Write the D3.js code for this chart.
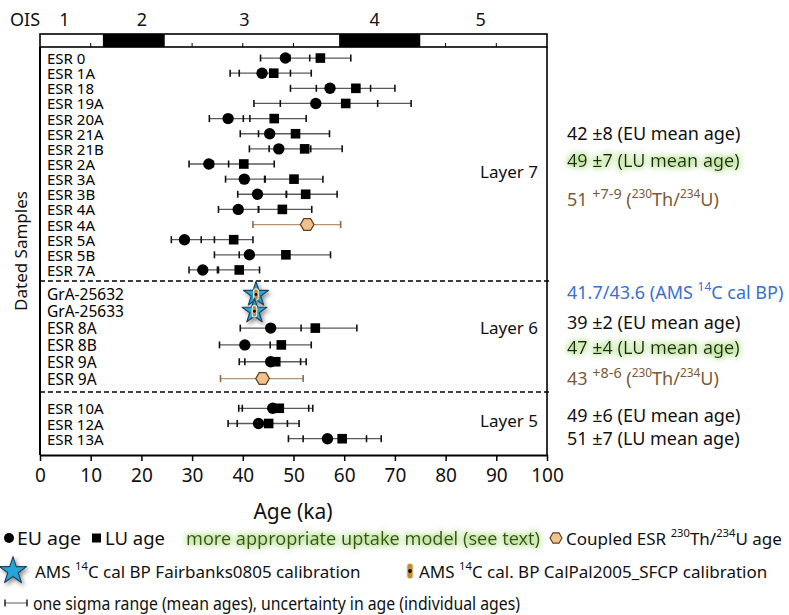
<!DOCTYPE html>
<html><head><meta charset="utf-8">
<script src="https://cdn.jsdelivr.net/npm/d3@7"></script>
<style>
body{margin:0;background:#fff}
svg{display:block}
text{font-family:"Noto Sans","Open Sans",sans-serif;fill:#111}
</style>
</head><body>
<svg id="chart" width="789" height="615"></svg>
<script>
// ---------------- DATA ----------------
const sampleLabels = ["ESR 0","ESR 1A","ESR 18","ESR 19A","ESR 20A","ESR 21A","ESR 21B","ESR 2A","ESR 3A","ESR 3B","ESR 4A","ESR 4A","ESR 5A","ESR 5B","ESR 7A",
  "GrA-25632","GrA-25633","ESR 8A","ESR 8B","ESR 9A","ESR 9A",
  "ESR 10A","ESR 12A","ESR 13A"];
const sampleLayer = [7,7,7,7,7,7,7,7,7,7,7,7,7,7,7, 6,6,6,6,6,6, 5,5,5];
const sampleKind = ["esr","esr","esr","esr","esr","esr","esr","esr","esr","esr","esr","coupled","esr","esr","esr",
  "ams","ams","esr","esr","esr","coupled",
  "esr","esr","esr"];
// EU (early uptake) ages and one-sigma range
const euAge  = [48.4,43.8,57.2,54.4,37.1,45.3,47.1,33.3,40.3,42.9,39.1,null,28.5,41.3,32.1, null,null,45.5,40.4,45.5,null, 45.9,43.1,56.7];
const euLow  = [43.5,37.5,49.4,42.2,33.4,39.5,41.3,29.4,36.6,39.0,35.2,null,25.9,34.4,29.4, null,null,39.5,35.4,39.3,null, 39.2,37.1,49.0];
const euHigh = [53.2,49.4,65.2,66.6,40.1,51.1,53.4,37.2,44.3,48.6,43.1,null,31.8,48.2,35.0, null,null,51.5,45.4,51.4,null, 53.0,48.8,64.4];
// LU (linear uptake) ages and one-sigma range
const luAge  = [55.3,46.1,62.3,60.3,46.2,50.4,52.2,40.2,50.1,52.4,47.8,null,38.2,48.5,39.3, null,null,54.3,47.6,46.5,null, 47.2,45.1,59.6];
const luLow  = [49.3,39.3,54.5,47.4,41.4,43.1,45.2,34.2,44.4,48.6,43.1,null,34.4,39.3,35.2, null,null,46.1,41.0,40.4,null, 39.9,38.9,51.9];
const luHigh = [61.3,53.5,70.0,73.2,52.5,57.1,59.6,46.2,55.8,58.6,53.6,null,42.0,57.3,43.3, null,null,62.5,53.5,52.5,null, 53.8,51.1,67.3];
// Coupled ESR / 230Th/234U ages
const thAge  = [null,null,null,null,null,null,null,null,null,null,null,52.7,null,null,null, null,null,null,null,null,43.9, null,null,null];
const thLow  = [null,null,null,null,null,null,null,null,null,null,null,42.0,null,null,null, null,null,null,null,null,35.6, null,null,null];
const thHigh = [null,null,null,null,null,null,null,null,null,null,null,59.3,null,null,null, null,null,null,null,null,51.9, null,null,null];
// AMS 14C cal BP ages
const amsAge = [null,null,null,null,null,null,null,null,null,null,null,null,null,null,null, 42.6,42.3,null,null,null,null, null,null,null];

const xTicks = [0,10,20,30,40,50,60,70,80,90,100];
const oisStages = ["1","2","3","4","5"];
const oisLabelAt = [4.8,20.1,40.3,66.0,86.9];
const oisCold = [[12.4,24.6],[59.0,75.0]];
const layers = [7,6,5];
const layerNames = ["Layer 7","Layer 6","Layer 5"];

// ---------------- LAYOUT ----------------
const svg = d3.select("#chart");
const x = d3.scaleLinear().domain([0,100]).range([40,547]);
const plotTop = 47, plotBottom = 455;
const bands = {7:[47,281,0.73], 6:[281,392,0.8], 5:[392,455,1.07]};

const rows = sampleLabels.map((l,i)=>({i,label:l,layer:sampleLayer[i],kind:sampleKind[i],
  eu:euAge[i],euLo:euLow[i],euHi:euHigh[i],lu:luAge[i],luLo:luLow[i],luHi:luHigh[i],
  th:thAge[i],thLo:thLow[i],thHi:thHigh[i],ams:amsAge[i]}));
const yScales = {};
layers.forEach(L=>{
  const idx = rows.filter(r=>r.layer===L).map(r=>r.i);
  yScales[L] = d3.scalePoint().domain(idx).range([bands[L][0],bands[L][1]]).padding(bands[L][2]);
});
rows.forEach(r=>{ r.y = yScales[r.layer](r.i); });

// defs
const defs = svg.append("defs");
const glow = defs.append("filter").attr("id","glow").attr("x","-10%").attr("y","-50%").attr("width","120%").attr("height","200%");
glow.append("feMorphology").attr("in","SourceAlpha").attr("operator","dilate").attr("radius",0.8).attr("result","d");
glow.append("feGaussianBlur").attr("in","d").attr("stdDeviation",3.2).attr("result","b");
glow.append("feFlood").attr("flood-color","#a6d97a").attr("flood-opacity",0.85).attr("result","f");
glow.append("feComposite").attr("in","f").attr("in2","b").attr("operator","in").attr("result","g");
const gm = glow.append("feMerge");
gm.append("feMergeNode").attr("in","g");
gm.append("feMergeNode").attr("in","SourceGraphic");
const shadow = defs.append("filter").attr("id","shadow").attr("x","-50%").attr("y","-50%").attr("width","200%").attr("height","200%");
shadow.append("feDropShadow").attr("dx",2).attr("dy",2.5).attr("stdDeviation",2).attr("flood-color","#555").attr("flood-opacity",0.65);

// OIS bar
svg.append("text").attr("x",25).attr("y",19).attr("text-anchor","middle").attr("dominant-baseline","central")
  .style("font-size","18px").text("OIS");
svg.selectAll(".oisl").data(oisStages).join("text")
  .attr("x",(d,i)=>x(oisLabelAt[i])).attr("y",19).attr("text-anchor","middle").attr("dominant-baseline","central")
  .style("font-size","18px").text(d=>d);
svg.append("rect").attr("x",x(0)).attr("y",34).attr("width",x(100)-x(0)).attr("height",13)
  .attr("fill","#fff").attr("stroke","#000").attr("stroke-width",1.6);
svg.selectAll(".oist").data(xTicks.slice(1,-1)).join("line")
  .attr("x1",d=>x(d)).attr("x2",d=>x(d)).attr("y1",47).attr("y2",43).attr("stroke","#000").attr("stroke-width",1);
svg.selectAll(".oisc").data(oisCold).join("rect")
  .attr("x",d=>x(d[0])).attr("y",34).attr("width",d=>x(d[1])-x(d[0])).attr("height",13).attr("fill","#000");

// plot frame
svg.append("line").attr("x1",x(0)).attr("x2",x(0)).attr("y1",plotTop).attr("y2",plotBottom).attr("stroke","#000").attr("stroke-width",2);
svg.append("line").attr("x1",x(100)).attr("x2",x(100)).attr("y1",plotTop).attr("y2",plotBottom).attr("stroke","#000").attr("stroke-width",1.6);

// axis
const ax = svg.append("g").attr("transform",`translate(0,${plotBottom})`)
  .call(d3.axisBottom(x).tickValues(xTicks).tickSize(6).tickPadding(8).tickSizeOuter(0));
ax.select(".domain").attr("stroke-width",2);
ax.selectAll(".tick line").attr("stroke-width",1.5);
ax.selectAll("text").style("font-size","19px").style("font-family","'Noto Sans',sans-serif").attr("fill","#111");
svg.append("text").attr("x",293).attr("y",511).attr("text-anchor","middle").attr("dominant-baseline","central")
  .style("font-size","21px").text("Age (ka)");
svg.append("text").attr("transform","translate(20,251) rotate(-90)").attr("text-anchor","middle").attr("dominant-baseline","central")
  .style("font-size","17px").text("Dated Samples");

// layer separators
[bands[6][0],bands[5][0]].forEach(yy=>{
  svg.append("line").attr("x1",x(0)).attr("x2",x(100)+5).attr("y1",yy).attr("y2",yy)
    .attr("stroke","#000").attr("stroke-width",1.5).attr("stroke-dasharray","5,3");
});

// layer labels
const layerLabelY = [(rows[7].y+rows[8].y)/2, rows[17].y-1, rows[22].y-3];
svg.selectAll(".layerl").data(layerNames).join("text")
  .attr("x",x(86.8)).attr("y",(d,i)=>layerLabelY[i]).attr("dominant-baseline","central")
  .style("font-size","17px").text(d=>d);

// sample labels
svg.selectAll(".slab").data(rows).join("text")
  .attr("x",47).attr("y",d=>d.y).attr("dominant-baseline","central")
  .style("font-size",d=>d.layer===6?"15.5px":"15px").style("fill","#000").text(d=>d.label);

// error bars
const esr = rows.filter(r=>r.kind==="esr");
const cpl = rows.filter(r=>r.kind==="coupled");
svg.selectAll(".eline").data(esr).join("line")
  .attr("x1",d=>x(Math.min(d.euLo,d.luLo))).attr("x2",d=>x(Math.max(d.euHi,d.luHi)))
  .attr("y1",d=>d.y).attr("y2",d=>d.y).attr("stroke","#5a5a5a").attr("stroke-width",1.3);
const tickData = [];
esr.forEach(d=>[d.euLo,d.euHi,d.luLo,d.luHi].forEach(v=>tickData.push({v,y:d.y})));
svg.selectAll(".etick").data(tickData).join("line")
  .attr("x1",d=>x(d.v)).attr("x2",d=>x(d.v)).attr("y1",d=>d.y-3.5).attr("y2",d=>d.y+3.5)
  .attr("stroke","#111").attr("stroke-width",1.6);
svg.selectAll(".cline").data(cpl).join("line")
  .attr("x1",d=>x(d.thLo)).attr("x2",d=>x(d.thHi)).attr("y1",d=>d.y).attr("y2",d=>d.y)
  .attr("stroke","#b49372").attr("stroke-width",1.3);
const ctick = [];
cpl.forEach(d=>[d.thLo,d.thHi].forEach(v=>ctick.push({v,y:d.y})));
svg.selectAll(".ctick").data(ctick).join("line")
  .attr("x1",d=>x(d.v)).attr("x2",d=>x(d.v)).attr("y1",d=>d.y-3.5).attr("y2",d=>d.y+3.5)
  .attr("stroke","#8a6a48").attr("stroke-width",1.6);

// markers
svg.selectAll(".eu").data(esr).join("circle")
  .attr("cx",d=>x(d.eu)).attr("cy",d=>d.y).attr("r",5.7).attr("fill","#000");
svg.selectAll(".lu").data(esr).join("rect")
  .attr("x",d=>x(d.lu)-4.8).attr("y",d=>d.y-4.8).attr("width",9.6).attr("height",9.6).attr("fill","#000");
const hexPath = r => d3.line()(d3.range(6).map(k=>[r*Math.cos(k*Math.PI/3), r*Math.sin(k*Math.PI/3)])) + "Z";
svg.selectAll(".hex").data(cpl).join("path")
  .attr("transform",d=>`translate(${x(d.th)},${d.y})`).attr("d",hexPath(6.8))
  .attr("fill","#f1c28c").attr("stroke","#5e4224").attr("stroke-width",1.3);

// AMS stars
function calpal(g, s){
  g.append("rect").attr("x",-2.4*s).attr("y",-6*s).attr("width",4.8*s).attr("height",12*s).attr("rx",2.4*s)
    .attr("fill","#c88a2a").attr("stroke","#e8e8e8").attr("stroke-width",1.1);
  g.append("circle").attr("r",1.5*s).attr("fill","#111");
}
const amsRows = rows.filter(r=>r.kind==="ams");
const starG = svg.selectAll(".star").data(amsRows).join("g")
  .attr("transform",d=>`translate(${x(d.ams)},${d.y})`);
starG.append("path").attr("d",d3.symbol(d3.symbolStar,190)()).attr("fill","#27a6d8")
  .attr("stroke","#1f4660").attr("stroke-width",1.2).attr("stroke-linejoin","round").attr("filter","url(#shadow)");
starG.each(function(){ calpal(d3.select(this), 0.95); });

// text with superscripts
function richText(xx, yy, segs, color, size, filt, len){
  const t = svg.append("text").attr("x",xx).attr("y",yy).attr("dominant-baseline","central")
    .style("font-size",size+"px");
  if(filt) t.attr("filter",filt);
  if(len) t.attr("textLength",len).attr("lengthAdjust","spacingAndGlyphs");
  let raised=false;
  segs.forEach(s=>{
    const isSup = typeof s!=="string";
    const ts = t.append("tspan").style("fill",color).text(isSup?s.sup:s);
    if(isSup){ ts.style("font-size",(size*(s.k||0.66))+"px").attr("dy",raised?0:-size*0.33); raised=true; }
    else if(raised){ ts.attr("dy",size*0.33); raised=false; }
  });
  return t;
}
const rx0 = 567;
const black="#111", green="#1c2a0a", brown="#7a5a38", blue="#3a6fd2";
richText(rx0,133,["42 ±8 (EU mean age)"],black,18);
richText(rx0,160,["49 ±7 (LU mean age)"],green,18,"url(#glow)");
richText(rx0,199,["51 ",{sup:"+7-9",k:0.8}," (",{sup:"230"},"Th/",{sup:"234"},"U)"],brown,18);
richText(rx0,292,["41.7/43.6 (AMS ",{sup:"14"},"C cal BP)"],blue,18);
richText(rx0,322,["39 ±2 (EU mean age)"],black,18);
richText(rx0,347,["47 ±4 (LU mean age)"],green,18,"url(#glow)");
richText(rx0,378,["43 ",{sup:"+8-6",k:0.8}," (",{sup:"230"},"Th/",{sup:"234"},"U)"],brown,18);
richText(rx0,415,["49 ±6 (EU mean age)"],black,18);
richText(rx0,438,["51 ±7 (LU mean age)"],black,18);

// legend
const ly1=538, ly2=571, ly3=603;
svg.append("circle").attr("cx",9).attr("cy",ly1).attr("r",5).attr("fill","#000");
richText(17,ly1,["EU age"],black,18,null,64);
svg.append("rect").attr("x",92).attr("y",ly1-4.5).attr("width",9).attr("height",9).attr("fill","#000");
richText(105,ly1,["LU age"],black,18,null,60);
richText(186,ly1,["more appropriate uptake model (see text)"],"#3a5212",18,"url(#glow)",354);
svg.append("path").attr("transform",`translate(556,${ly1})`).attr("d",hexPath(6))
  .attr("fill","#f1c28c").attr("stroke","#5e4224").attr("stroke-width",1.2);
richText(566,ly1,["Coupled ESR ",{sup:"230"},"Th/",{sup:"234"},"U age"],black,17);
svg.append("path").attr("transform",`translate(13,${ly2})`).attr("d",d3.symbol(d3.symbolStar,230)())
  .attr("fill","#27a6d8").attr("stroke","#1f4660").attr("stroke-width",1.2).attr("stroke-linejoin","round").attr("filter","url(#shadow)");
richText(35,ly2,["AMS ",{sup:"14"},"C cal BP Fairbanks0805 calibration"],black,17);
calpal(svg.append("g").attr("transform",`translate(410,${ly2})`), 1.3);
richText(419,ly2,["AMS ",{sup:"14"},"C cal. BP CalPal2005_SFCP calibration"],black,17);
svg.append("line").attr("x1",5).attr("x2",27).attr("y1",ly3).attr("y2",ly3).attr("stroke","#777").attr("stroke-width",1.2);
[5,27].forEach(v=>svg.append("line").attr("x1",v).attr("x2",v).attr("y1",ly3-3.5).attr("y2",ly3+3.5).attr("stroke","#222").attr("stroke-width",1.5));
richText(33,ly3,["one sigma range (mean ages), uncertainty in age (individual ages)"],black,18,null,487);
</script>
</body></html>
